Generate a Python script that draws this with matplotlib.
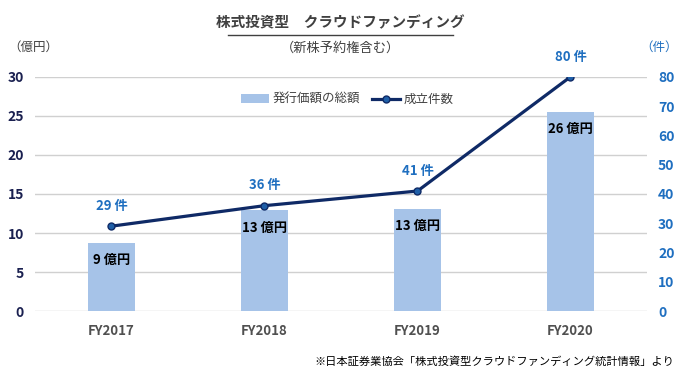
import matplotlib
matplotlib.use("Agg")
import matplotlib.pyplot as plt
from matplotlib.lines import Line2D
from matplotlib.patches import Patch

plt.rcParams['font.family'] = ['Noto Sans CJK JP', 'DejaVu Sans']

# data
years = ["FY2017", "FY2018", "FY2019", "FY2020"]
amount = [8.7, 12.9, 13.1, 25.5]          # 億円
amount_labels = ["9 億円", "13 億円", "13 億円", "26 億円"]
deals = [29, 36, 41, 80]                 # 件
deal_labels = ["29 件", "36 件", "41 件", "80 件"]

bar_color = "#a6c3e8"
line_color = "#0f2a66"
blue_text = "#1f6fc0"
left_tick = "#1a2050"

fig = plt.figure(figsize=(6.81, 3.73), dpi=100)
ax = fig.add_axes([0.0514, 0.166, 0.8986, 0.628])
ax2 = ax.twinx()

x = list(range(len(years)))
ax.bar(x, amount, width=0.31, color=bar_color, zorder=2)
for xi, v, lab in zip(x, amount, amount_labels):
    ax.text(xi, v - 1.3, lab, ha="center", va="top", fontsize=9.5,
            fontweight="bold", color="black", zorder=5)

ax.set_xlim(-0.5, 3.5)
ax.set_ylim(0, 30)
ax.set_yticks(range(0, 31, 5))
ax.grid(axis="y", color="#d0d0d0", linewidth=1, zorder=0)
ax.set_axisbelow(True)
for s in ax.spines.values():
    s.set_visible(False)
for s in ax2.spines.values():
    s.set_visible(False)
ax.tick_params(axis="y", length=0, labelsize=10, pad=8, colors=left_tick)
ax.tick_params(axis="x", length=0, labelsize=9.5, pad=9, colors="#505050")
ax.set_xticks(x)
ax.set_xticklabels(years, fontweight="bold")
for t in ax.get_yticklabels():
    t.set_fontweight("bold")

ax2.plot(x, deals, color=line_color, linewidth=2.3, marker="o", markersize=5,
         markerfacecolor="#1f5fa8", markeredgecolor=line_color, zorder=4)
for xi, v, lab in zip(x, deals, deal_labels):
    ax2.text(xi, v + 4.5, lab, ha="center", va="bottom", fontsize=9.5,
             fontweight="bold", color=blue_text)
ax2.set_ylim(0, 80)
ax2.set_yticks(range(0, 81, 10))
ax2.tick_params(axis="y", length=0, labelsize=10, pad=8, colors=blue_text)
for t in ax2.get_yticklabels():
    t.set_fontweight("bold")

handles = [Patch(facecolor=bar_color, label="発行価額の総額"),
           Line2D([0], [0], color=line_color, linewidth=2.3, marker="o",
                  markersize=5, markerfacecolor="#1f5fa8",
                  markeredgecolor=line_color, label="成立件数")]
fig.legend(handles=handles, loc="center", bbox_to_anchor=(0.51, 0.733),
           ncol=2, frameon=False, fontsize=9, handlelength=2.2,
           handletextpad=0.3, columnspacing=1.0, labelcolor="#404040")

fig.text(0.50, 0.94, "株式投資型　クラウドファンディング", ha="center", va="center",
         fontsize=10.5, fontweight="bold", color="#404040")
fig.add_artist(Line2D([0.335, 0.665], [0.905, 0.905], color="#404040",
                      linewidth=1, transform=fig.transFigure))
fig.text(0.50, 0.872, "（新株予約権含む）", ha="center", va="center",
         fontsize=9.5, color="#404040")
fig.text(0.012, 0.872, "（億円）", ha="left", va="center", fontsize=9,
         color="#404040")
fig.text(0.995, 0.872, "（件）", ha="right", va="center", fontsize=9,
         color=blue_text)
fig.text(0.99, 0.03, "※日本証券業協会「株式投資型クラウドファンディング統計情報」より",
         ha="right", va="center", fontsize=8.1, color="black")

fig.savefig("out.png", dpi=100)
